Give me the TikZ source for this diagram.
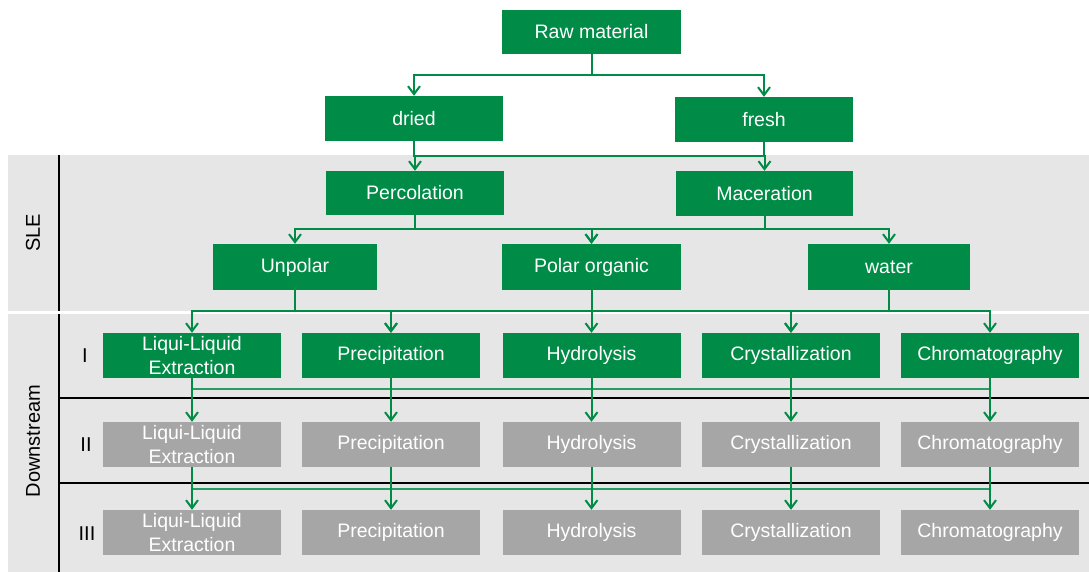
\documentclass[tikz,border=0pt]{standalone}
\usepackage{fontspec}
\setmainfont{Liberation Sans}
\usetikzlibrary{arrows.meta}
\definecolor{grn}{RGB}{0,140,70}
\definecolor{gbox}{RGB}{166,166,166}
\definecolor{band}{RGB}{230,230,230}
\begin{document}
\begin{tikzpicture}[x=1pt,y=-1pt,
  box/.style={fill=grn,text=white,inner sep=0pt,minimum width=178pt,minimum height=45pt,align=center,font=\fontsize{19.5}{24}\selectfont},
  gbx/.style={box,fill=gbox},
  arr/.style={draw=grn,line width=2pt,-{Straight Barb[length=8pt,width=12pt]}},
  hl/.style={draw=grn!85!white,line width=1.6pt},
  lbl/.style={text=black,inner sep=0pt,font=\fontsize{20}{23}\selectfont},
  blk/.style={draw=black,line width=2pt}]
\useasboundingbox (0,0) rectangle (1089,572);
\fill[white] (0,0) rectangle (1089,572);
% bands
\fill[band] (8,155) rectangle (1089,311);
\fill[band] (8,314) rectangle (1089,572);
\draw[blk] (59,155) -- (59,572);
\draw[blk] (59,398) -- (1089,398);
\draw[blk] (59,483) -- (1089,483);
\fill[white] (8,311) rectangle (1089,314);
% labels
\node[lbl,rotate=90] (sle) at (33,233) {SLE};
\node[lbl,rotate=90] (down) at (33,441) {Downstream};
\node[lbl] (r1) at (85,356) {I};
\node[lbl] (r2) at (86,445) {II};
\node[lbl] (r3) at (87,534) {III};
% nodes
\node[box,minimum width=179pt,minimum height=44pt] (raw) at (591.5,32) {Raw material};
\node[box] (dried) at (414,118.5) {dried};
\node[box] (fresh) at (764,119.5) {fresh};
\node[box,minimum height=44pt] (perc) at (415,193) {Percolation};
\node[box,minimum width=177pt] (mac) at (764.5,193.5) {Maceration};
\node[box,minimum width=164pt,minimum height=46pt] (unp) at (295,267) {Unpolar};
\node[box,minimum width=179pt,minimum height=46pt] (pol) at (591.5,267) {Polar organic};
\node[box,minimum width=162pt,minimum height=46pt] (wat) at (889,267) {water};
\foreach \r/\y/\s in {a/355.5/box,b/444.5/gbx,c/532.5/gbx}{
  \node[\s] (\r1) at (192,\y) {Liqui-Liquid\\Extraction};
  \node[\s] (\r2) at (391,\y) {Precipitation};
  \node[\s] (\r3) at (591.5,\y) {Hydrolysis};
  \node[\s] (\r4) at (791,\y) {Crystallization};
  \node[\s] (\r5) at (990,\y) {Chromatography};
}
% junction levels
\coordinate (j1) at (0,75);
\coordinate (j2) at (0,156);
\coordinate (j3) at (0,229);
\coordinate (j4) at (0,311);
\coordinate (j5) at (0,389);
\coordinate (j6) at (0,489);
% connectors
\draw[arr] (raw.south) -- (raw.south |- j1) -| (dried.north);
\draw[arr] (raw.south) -- (raw.south |- j1) -| (fresh.north);
\draw[arr] (dried.south) -- (dried.south |- j2) -| (mac.north);
\draw[arr] (fresh.south) -- (fresh.south |- j2) -| (perc.north);
\draw[arr] (perc.south) -- (perc.south |- j3) -| (unp.north);
\draw[arr] (perc.south) -- (perc.south |- j3) -| (pol.north);
\draw[arr] (mac.south) -- (mac.south |- j3) -| (pol.north);
\draw[arr] (mac.south) -- (mac.south |- j3) -| (wat.north);
\draw[arr] (unp.south) -- (unp.south |- j4) -| (a1.north);
\draw[arr] (unp.south) -- (unp.south |- j4) -| (a2.north);
\draw[arr] (pol.south) -- (pol.south |- j4) -| (a2.north);
\draw[arr] (pol.south) -- (a3.north);
\draw[arr] (pol.south) -- (pol.south |- j4) -| (a4.north);
\draw[arr] (wat.south) -- (wat.south |- j4) -| (a4.north);
\draw[arr] (wat.south) -- (wat.south |- j4) -| (a5.north);
\draw[hl] (a1.south |- j5) -- (a5.south |- j5);
\draw[hl] (b1.south |- j6) -- (b5.south |- j6);
\foreach \i in {1,...,5}{
  \draw[arr] (a\i.south) -- (b\i.north);
  \draw[arr] (b\i.south) -- (c\i.north);
}
\end{tikzpicture}
\end{document}
